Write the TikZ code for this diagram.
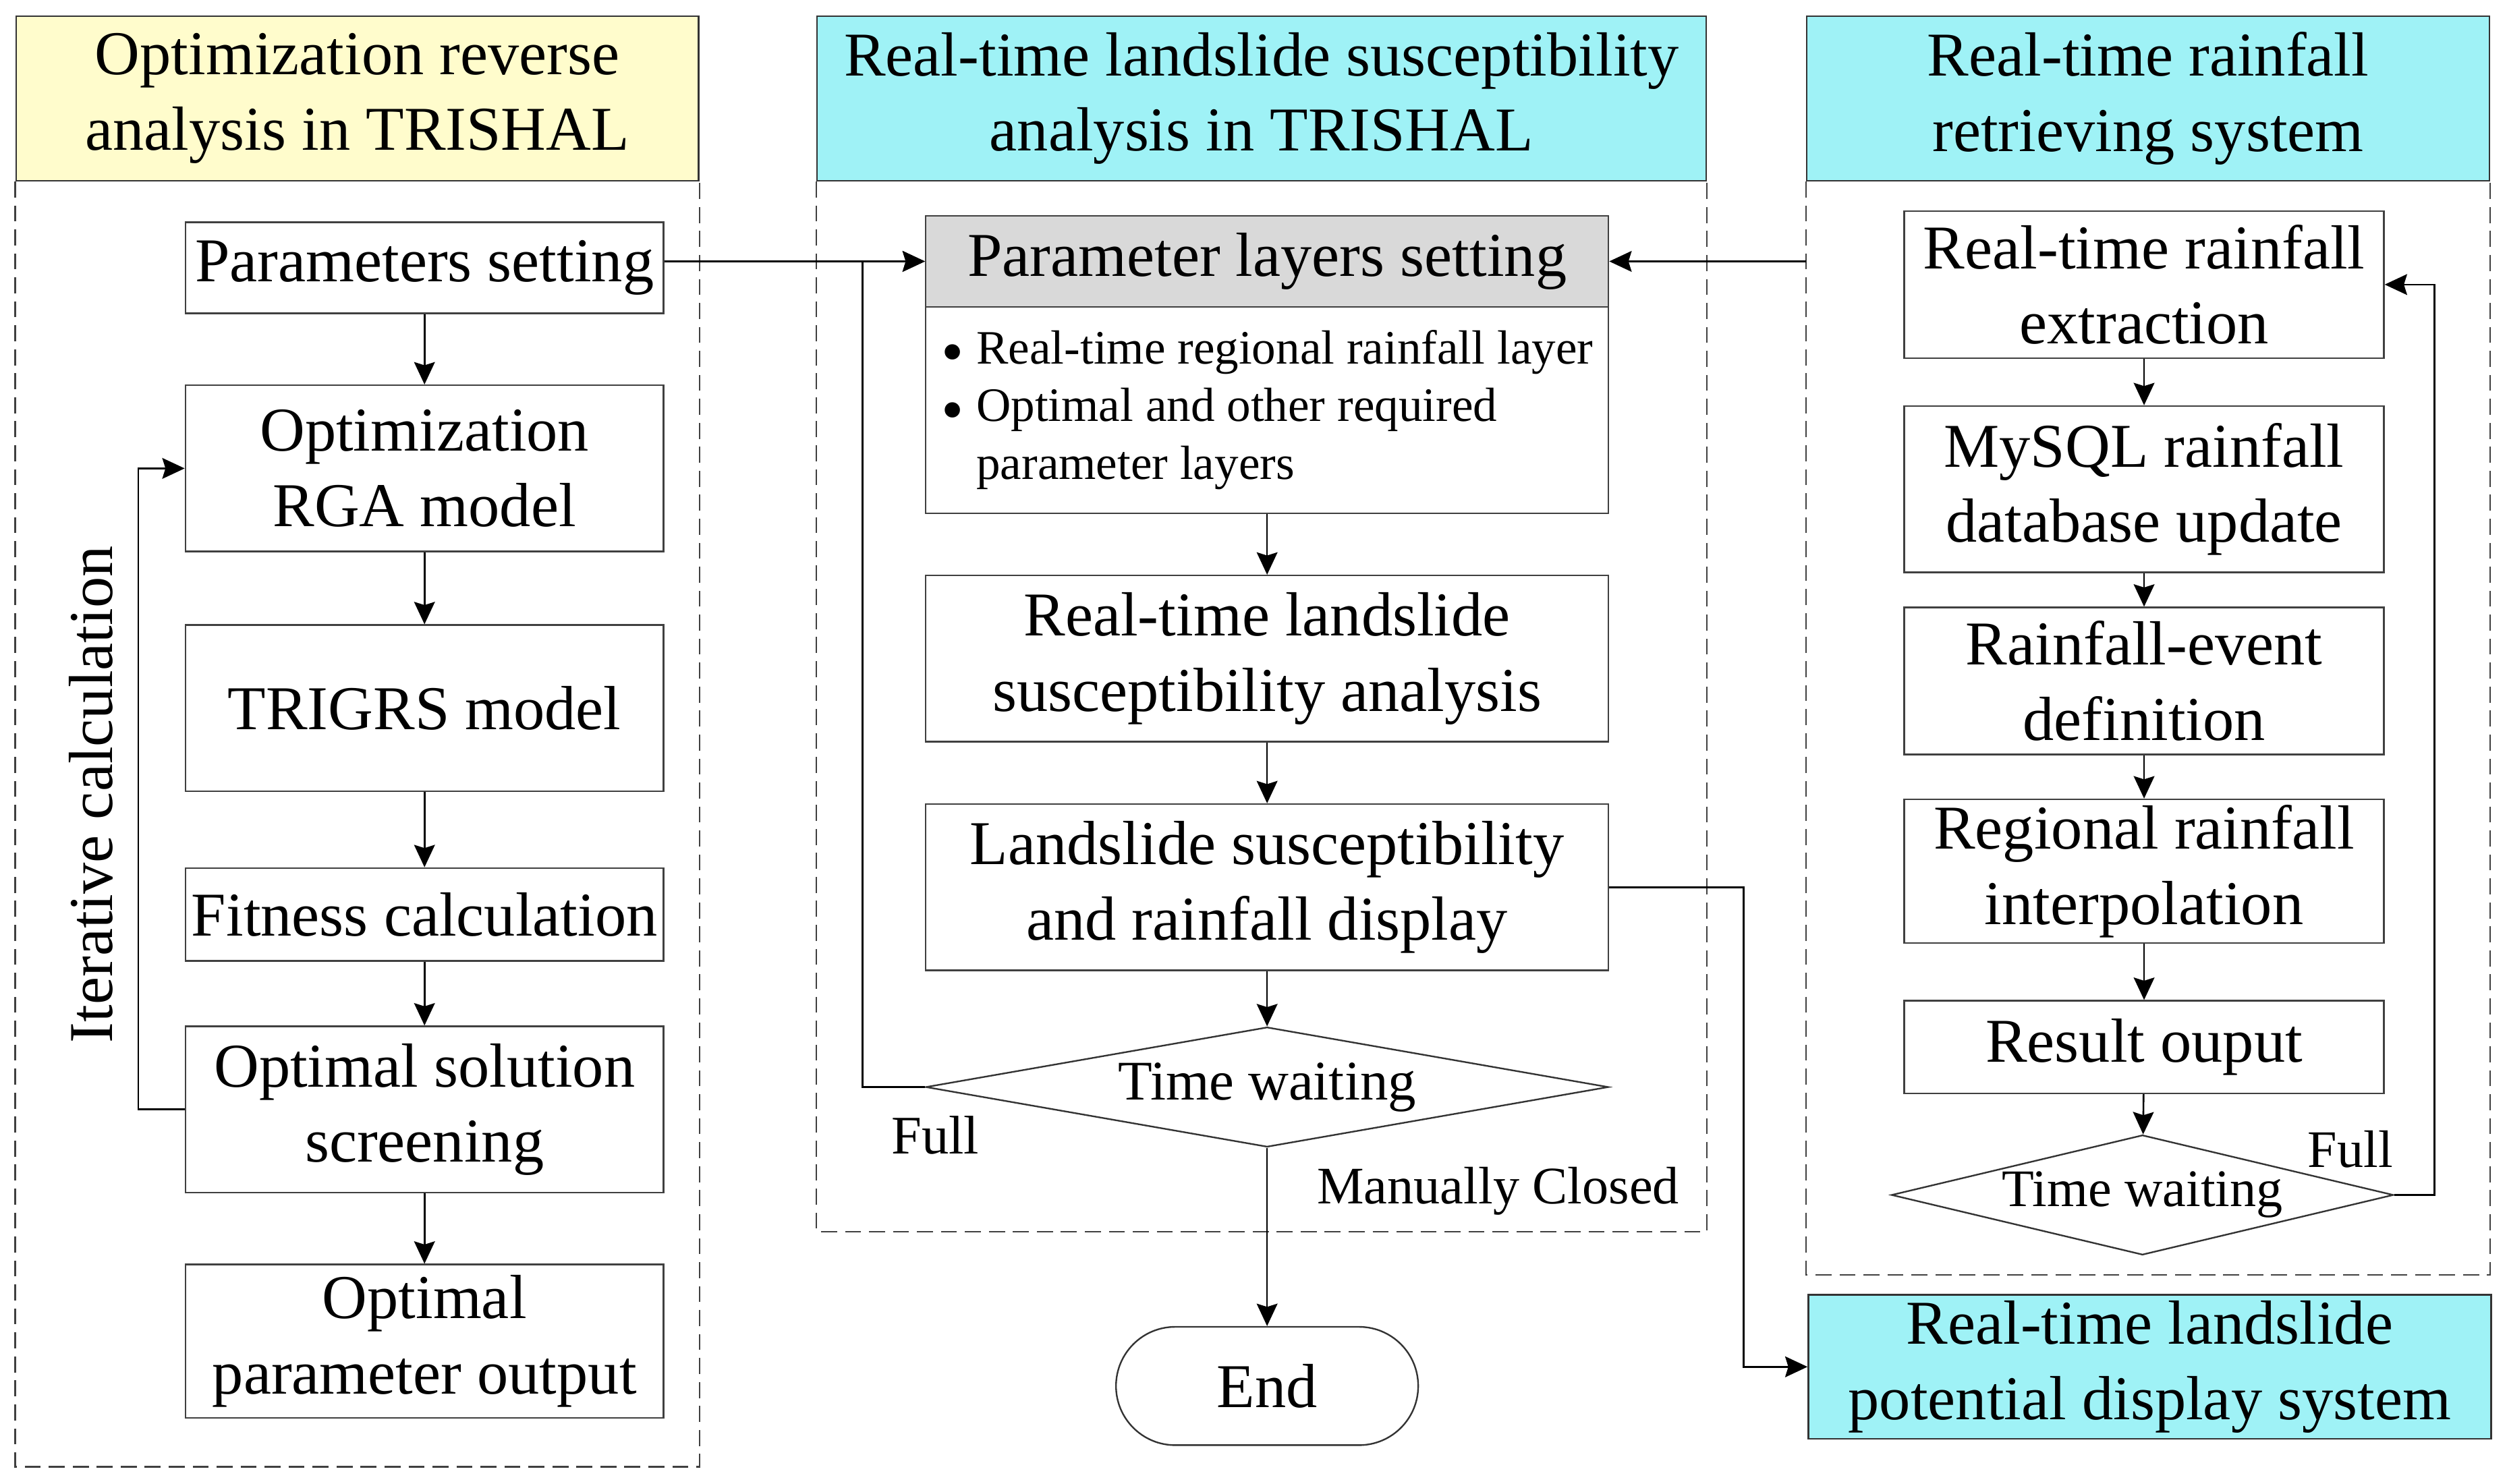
\documentclass[tikz,border=0pt]{standalone}
\usepackage{fontspec}
\setmainfont{Liberation Serif}
\usepackage{tikz}
\usetikzlibrary{shapes.geometric,arrows.meta}
\definecolor{headcyan}{HTML}{9FF2F6}
\definecolor{headyellow}{HTML}{FFFCCC}
\definecolor{layergray}{HTML}{D9D9D9}
\newcommand{\bigfont}{\fontsize{39}{47}\selectfont}
\newcommand{\listfont}{\fontsize{30}{36}\selectfont}
\newcommand{\tagfont}{\fontsize{34}{40}\selectfont}
\newcommand{\dotmark}{\raisebox{-6pt}{\fontsize{40}{36}\selectfont\textbullet}}
\tikzstyle{headbox}=[rectangle,draw=black!80,line width=1pt,inner sep=0pt,
                     minimum width=427pt,minimum height=103pt,
                     align=center,font=\bigfont]
\tikzstyle{stepbox}=[rectangle,draw=black!75,fill=white,line width=1pt,
                     inner sep=0pt,align=center,font=\bigfont]
\tikzstyle{waitdia}=[diamond,draw=black!80,fill=white,line width=1pt,
                     inner sep=0pt]
\tikzstyle{endbox}=[rectangle,rounded corners=37pt,draw=black!80,line width=1pt,
                    minimum width=189pt,minimum height=74pt,font=\bigfont]
\tikzstyle{dashframe}=[draw=black!75,line width=1pt,dash pattern=on 10pt off 5pt]
\tikzstyle{flow}=[draw=black,line width=1.1pt,-{Stealth[length=14pt,width=13pt,inset=2pt]}]
\tikzstyle{sidelabel}=[inner sep=0pt,font=\tagfont]

\begin{document}
\begin{tikzpicture}[x=1pt,y=1pt]
    \useasboundingbox (0,0) rectangle (1568,-928.3);
    % column headers and frames
    \node (hl) at (223.5,-61.5) [headbox,fill=headyellow]{Optimization reverse\\analysis in TRISHAL};
    \node (hm) at (789,-61.5) [headbox,fill=headcyan,minimum width=556pt]{Real-time landslide susceptibility\\analysis in TRISHAL};
    \node (hr) at (1343.5,-61.5) [headbox,fill=headcyan]{Real-time rainfall\\retrieving system};
    \draw[dashframe] (hl.south west) -- ++(0,-804) -| (hl.south east);
    \draw[dashframe] (hm.south west) -- ++(0,-657) -| (hm.south east);
    \draw[dashframe] (hr.south west) -- ++(0,-684) -| (hr.south east);

    % optimization reverse analysis
    \node (ps) at (265.5,-167.5) [stepbox,minimum width=299pt,minimum height=57pt]{Parameters setting};
    \node (rga) at (265.5,-293) [stepbox,minimum width=299pt,minimum height=104pt]{Optimization\\RGA model};
    \node (trg) at (265.5,-443) [stepbox,minimum width=299pt,minimum height=104pt]{TRIGRS model};
    \node (fit) at (265.5,-572) [stepbox,minimum width=299pt,minimum height=58pt]{Fitness calculation};
    \node (scr) at (265.5,-694) [stepbox,minimum width=299pt,minimum height=104pt]{Optimal solution\\screening};
    \node (opo) at (265.5,-839) [stepbox,minimum width=299pt,minimum height=96pt]{Optimal\\parameter output};
    \node (itc) at (57,-497) [rotate=90,inner sep=0pt,font=\bigfont]{Iterative calculation};
    \draw[flow] (ps) -- (rga);
    \draw[flow] (rga) -- (trg);
    \draw[flow] (trg) -- (fit);
    \draw[flow] (fit) -- (scr);
    \draw[flow] (scr) -- (opo);
    \draw[flow] (scr.west) -- ++(-29,0) |- (rga.west);

    % real-time susceptibility analysis
    \node (pls) at (792.5,-163.5) [stepbox,fill=layergray,minimum width=427pt,minimum height=57pt]{Parameter layers setting};
    \node (lay) at (792.5,-256.5) [stepbox,minimum width=427pt,minimum height=129pt,font=\listfont]{%
      \begin{tabular}{@{}l@{\hspace{8pt}}l@{}}
        \dotmark & Real-time regional rainfall layer\\
        \dotmark & Optimal and other required\\
                 & parameter layers
      \end{tabular}};
    \node (rls) at (792.5,-412) [stepbox,minimum width=427pt,minimum height=104pt]{Real-time landslide\\susceptibility analysis};
    \node (lsd) at (792.5,-555) [stepbox,minimum width=427pt,minimum height=104pt]{Landslide susceptibility\\and rainfall display};
    \node (tw1) at (792.5,-680) [waitdia,aspect=5.7,minimum width=427pt,minimum height=75pt,font=\fontsize{35}{40}\selectfont]{Time waiting};
    \node (end) at (792.5,-867) [endbox]{End};
    \node (full1) at (585,-710) [sidelabel]{Full};
    \node (man) at (937,-745) [sidelabel,font=\fontsize{33}{40}\selectfont]{Manually Closed};
    \draw[flow] (ps.east |- pls.west) -- (pls.west);
    \draw[flow] (hr.south west |- pls.east) -- (pls.east);
    \draw[flow] (lay) -- (rls);
    \draw[flow] (rls) -- (lsd);
    \draw[flow] (lsd) -- (tw1);
    \draw[flow] (tw1) -- (end);
    \draw[flow] (tw1.west) -- ++(-39,0) |- (pls.west);

    % real-time rainfall retrieving
    \node (ext) at (1341,-178) [stepbox,minimum width=300pt,minimum height=92pt]{Real-time rainfall\\extraction};
    \node (sql) at (1341,-306) [stepbox,minimum width=300pt,minimum height=104pt]{MySQL rainfall\\database update};
    \node (evt) at (1341,-426) [stepbox,minimum width=300pt,minimum height=92pt]{Rainfall-event\\definition};
    \node (itp) at (1341,-545) [stepbox,minimum width=300pt,minimum height=90pt]{Regional rainfall\\interpolation};
    \node (res) at (1341,-655) [stepbox,minimum width=300pt,minimum height=58pt]{Result ouput};
    \node (tw2) at (1340,-747.5) [waitdia,aspect=4.2,minimum width=314pt,minimum height=75pt,font=\fontsize{33}{40}\selectfont]{Time waiting};
    \node (full2) at (1470,-719) [sidelabel,font=\fontsize{33}{40}\selectfont]{Full};
    \node (pds) at (1344.5,-855) [headbox,fill=headcyan,minimum height=90pt]{Real-time landslide\\potential display system};
    \draw[flow] (ext) -- (sql);
    \draw[flow] (sql) -- (evt);
    \draw[flow] (evt) -- (itp);
    \draw[flow] (itp) -- (res);
    \draw[flow] (res) -- (tw2);
    \draw[flow] (tw2.east) -- ++(25,0) |- (ext.east);
    \draw[flow] (lsd.east) -- ++(84,0) |- (pds.west);
\end{tikzpicture}
\end{document}
